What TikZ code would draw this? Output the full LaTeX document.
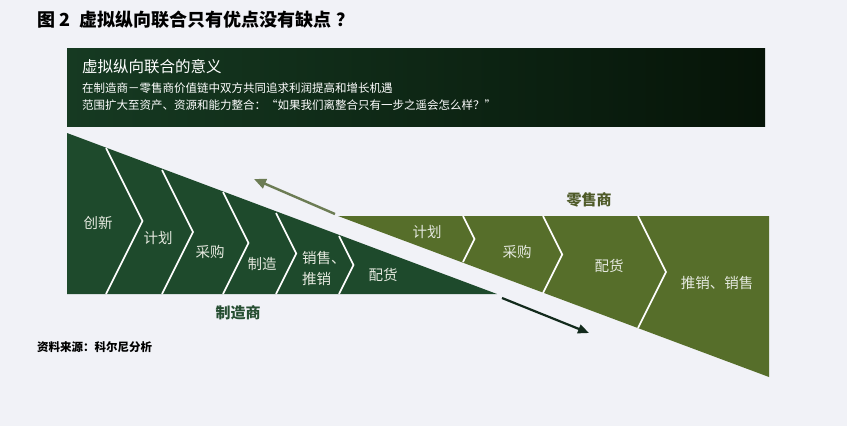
\documentclass[tikz,border=0pt]{standalone}
\usepackage{fontspec}
\setmainfont{Noto Sans CJK SC}
\usetikzlibrary{arrows.meta}

\definecolor{paper}{RGB}{241,242,247}
\definecolor{bannerL}{RGB}{22,58,34}
\definecolor{bannerR}{RGB}{6,20,8}
\definecolor{maker}{RGB}{30,74,44}
\definecolor{seller}{RGB}{86,110,42}
\definecolor{stagetext}{RGB}{228,232,222}
\definecolor{makerlabel}{RGB}{38,78,50}
\definecolor{sellerlabel}{RGB}{78,90,40}
\definecolor{uparrow}{RGB}{108,124,84}
\definecolor{downarrow}{RGB}{18,42,28}

\begin{document}
\begin{tikzpicture}[x=1pt,y=-1pt]
		\tikzset{stage/.style = {text=stagetext, font=\fontsize{14.5}{21}\selectfont, align=center, inner sep=0pt}}
		\tikzset{sep/.style = {draw=white, line width=1.6pt}}
		\tikzset{party/.style = {font=\bfseries\fontsize{15}{18}\selectfont, inner sep=0pt}}
		\tikzset{banner/.style = {anchor=west, text=white, inner sep=0pt}}

		\fill[paper] (0,0) rectangle (847,426);
		\useasboundingbox (0,0) rectangle (847,426);

		\node[anchor=west, inner sep=0pt, font=\bfseries\fontsize{18}{22}\selectfont] (title) at (37,20) {图 2\enspace 虚拟纵向联合只有优点没有缺点\hspace{5pt}？};

		% banner
		\shade[left color=bannerL, right color=bannerR] (67,48) rectangle (765,126);
		\node[banner, font=\fontsize{15.5}{18}\selectfont] (mean) at (82,67) {虚拟纵向联合的意义};
		\node[banner, font=\fontsize{11.5}{14}\selectfont] (line1) at (82,88) {在制造商－零售商价值链中双方共同追求利润提高和增长机遇};
		\node[banner, font=\fontsize{11.5}{14}\selectfont] (line2) at (82,105) {范围扩大至资产、资源和能力整合：“如果我们离整合只有一步之遥会怎么样？”};

		% two triangles
		\fill[maker] (67,133) -- (67,294) -- (497,294) -- cycle;
		\fill[seller] (338,216) -- (769,216) -- (769,377) -- cycle;

		\foreach \xt/\yt/\yb in {106/148/294, 162/170/294, 223/192/294, 276/213/294, 339/236/294, 463/216/262, 543/216/293, 638/216/328}
			\draw[sep] (\xt,\yt) -- ({\xt+0.25*(\yb-\yt)},{(\yt+\yb)/2}) -- (\xt,\yb);

		\node[stage] (m1) at (98,223) {创新};
		\node[stage] (m2) at (158,238) {计划};
		\node[stage] (m3) at (210,252) {采购};
		\node[stage] (m4) at (262,264) {制造};
		\node[stage, align=left, anchor=west] (m5) at (302,268) {销售、\\推销};
		\node[stage] (m6) at (383,275) {配货};

		\node[stage] (r1) at (427,232) {计划};
		\node[stage] (r2) at (517,252) {采购};
		\node[stage] (r3) at (609,266) {配货};
		\node[stage] (r4) at (717,283) {推销、销售};

		\node[party, text=makerlabel] (maker) at (238,313) {制造商};
		\node[party, text=sellerlabel] (seller) at (589,200) {零售商};

		\coordinate (upA) at (335,214);
		\coordinate (upB) at (254,179);
		\coordinate (dnA) at (502,298);
		\coordinate (dnB) at (589,333);
		\draw[uparrow, line width=2.4pt, -{Triangle[length=12pt,width=10pt]}] (upA) -- (upB);
		\draw[downarrow, line width=2.2pt, -{Triangle[length=11pt,width=9pt]}] (dnA) -- (dnB);

		\node[anchor=west, inner sep=0pt, font=\bfseries\fontsize{11.5}{14}\selectfont] (src) at (37,347) {资料来源：科尔尼分析};

	\end{tikzpicture}
\end{document}
